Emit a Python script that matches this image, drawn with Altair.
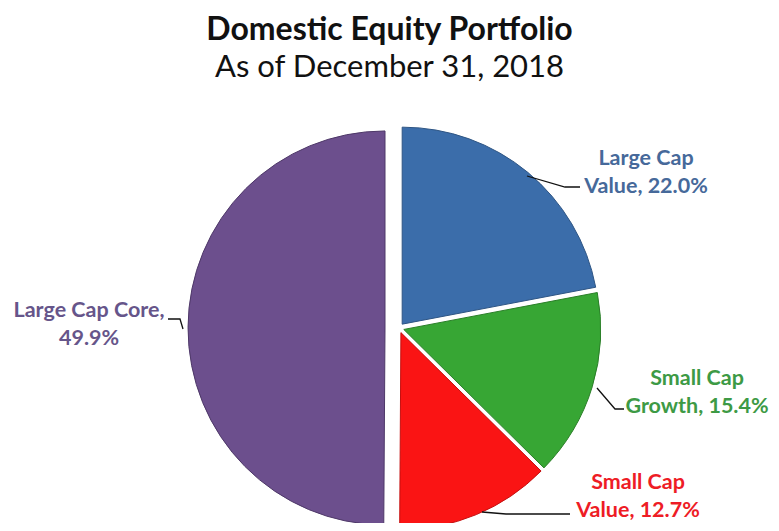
import altair as alt
import pandas as pd

# ---- data ----
categories = ["Large Cap Value", "Small Cap Growth", "Small Cap Value", "Large Cap Core"]
weights = [22.0, 15.4, 12.7, 49.9]
label_first = ["Large Cap", "Small Cap", "Small Cap", "Large Cap Core,"]
label_second = ["Value, 22.0%", "Growth, 15.4%", "Value, 12.7%", "49.9%"]

# ---- style ----
slice_colors = ["#3B6DAA", "#37A634", "#FA1414", "#6C4F8D"]
edge_colors = ["#2E5584", "#2A7F28", "#C41010", "#4E3868"]
text_colors = ["#46699A", "#3D9A45", "#EE1C25", "#66558A"]
explode = [5, 5, 5, 14]

W, H = 763, 415
PAD_TOP = 100
OX, OY = 8, 8 + PAD_TOP          # page offset of plot origin
CX, CY, R = 399 - OX, 328 - OY, 197

# label anchors (page px): centre x, first baseline y
label_pos = [(646, 165), (697, 385), (638, 489), (89, 317)]
LINE_GAP = 28
# leader polylines (page px)
leaders = [
    [(527, 176), (565, 187), (580, 187)],
    [(597, 388), (615, 409), (624, 409)],
    [(482, 512), (506, 514), (570, 514)],
    [(168, 319), (180, 319), (183, 329)],
]

df = pd.DataFrame({
    "category": categories,
    "weight": weights,
    "order": list(range(len(categories))),
    "explode": explode,
    "color": slice_colors,
    "edge": edge_colors,
})

arcs = (
    alt.Chart(df)
    .transform_joinaggregate(total="sum(weight)")
    .transform_window(cum="sum(weight)", sort=[alt.SortField("order")])
    .transform_calculate(
        t0="2*PI*(datum.cum - datum.weight)/datum.total",
        t1="2*PI*datum.cum/datum.total",
        tm="(datum.t0 + datum.t1)/2",
        px=f"{CX} + datum.explode*sin(datum.tm)",
        py=f"{CY} - datum.explode*cos(datum.tm)",
    )
    .mark_arc(radius=R, strokeWidth=1)
    .encode(
        x=alt.X("px:Q", scale=None),
        y=alt.Y("py:Q", scale=None),
        theta=alt.Theta("t0:Q", scale=None),
        theta2="t1:Q",
        fill=alt.Fill("color:N", scale=None),
        stroke=alt.Stroke("edge:N", scale=None),
        tooltip=["category:N", "weight:Q"],
    )
)

rows = []
for i, cat in enumerate(categories):
    x, y = label_pos[i]
    rows.append({"category": cat, "text": label_first[i], "x": x - OX, "y": y - OY, "color": text_colors[i]})
    rows.append({"category": cat, "text": label_second[i], "x": x - OX, "y": y + LINE_GAP - OY, "color": text_colors[i]})
ldf = pd.DataFrame(rows)

labels = (
    alt.Chart(ldf)
    .mark_text(font="Lato", fontSize=21.5, fontWeight="bold", align="center", baseline="alphabetic")
    .encode(
        x=alt.X("x:Q", scale=None),
        y=alt.Y("y:Q", scale=None),
        text="text:N",
        color=alt.Color("color:N", scale=None),
    )
)

lrows = []
for i, cat in enumerate(categories):
    for j, (x, y) in enumerate(leaders[i]):
        lrows.append({"category": cat, "k": j, "x": x - OX, "y": y - OY})
leader_df = pd.DataFrame(lrows)

lines = (
    alt.Chart(leader_df)
    .mark_line(color="#111111", strokeWidth=1.3)
    .encode(
        x=alt.X("x:Q", scale=None),
        y=alt.Y("y:Q", scale=None),
        detail="category:N",
        order="k:Q",
    )
)

chart = (
    alt.layer(arcs, lines, labels)
    .properties(
        width=W,
        height=H,
        background="white",
        autosize=alt.AutoSizeParams(type="none"),
        padding={"left": 0, "right": 0, "top": PAD_TOP, "bottom": 0},
        title=alt.TitleParams(
            text="Domestic Equity Portfolio",
            subtitle="As of December 31, 2018",
            anchor="middle",
            font="Lato",
            fontSize=32,
            fontWeight="bold",
            color="#111111",
            subtitleFont="Lato",
            subtitleFontSize=31,
            subtitleColor="#111111",
            subtitlePadding=6,
            offset=24,
        ),
    )
    .configure_view(stroke=None, strokeWidth=0)
)

chart.save("out.html", embed_options={"renderer": "svg", "actions": False})
